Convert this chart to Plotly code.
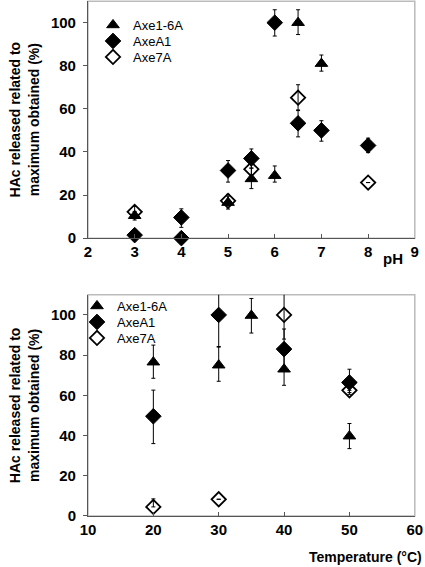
import plotly.graph_objects as go

# ---- pH data ----
ph_axe16_x = [3, 5, 5.5, 6, 6.5, 7]
ph_axe16_y = [10.4, 16.5, 27.5, 29, 100, 81]
ph_axe16_up = [2, 3, 5, 4.5, 6, 4]
ph_axe16_dn = [2, 3, 4.5, 3, 5.5, 3.5]

ph_axeA1_x = [3, 4, 4, 5, 5.5, 6, 6.5, 7, 8]
ph_axeA1_y = [1.4, 9.6, 0, 31.4, 37, 100, 53.3, 50, 43]
ph_axeA1_up = [0, 4, 0, 4.6, 4.4, 6, 6.2, 4.5, 3.4]
ph_axeA1_dn = [0, 4.6, 0, 5.4, 4.5, 6.2, 6.3, 5, 3.3]

ph_axe7A_x = [3, 5, 5.5, 6.5, 8]
ph_axe7A_y = [12.2, 17.3, 32, 65.2, 25.8]
ph_axe7A_up = [2.5, 3, 4, 6, 0]
ph_axe7A_dn = [2, 2, 4, 6, 0]

# ---- Temperature data ----
t_axe16_x = [20, 30, 35, 40, 50]
t_axe16_y = [76.5, 75, 99.7, 73, 39.7]
t_axe16_up = [8.5, 9.3, 8.5, 9, 6.3]
t_axe16_dn = [8, 8, 8.7, 8, 6.2]

t_axeA1_x = [20, 30, 40, 50]
t_axeA1_y = [49.6, 100, 83, 66.4]
t_axeA1_up = [13, 16, 10, 6.6]
t_axeA1_dn = [13.6, 16, 10, 5]

t_axe7A_x = [20, 30, 40, 50]
t_axe7A_y = [4.5, 8.3, 100, 62.5]
t_axe7A_up = [4, 0, 16, 0]
t_axe7A_dn = [0, 0, 12, 2]

names = ["Axe1-6A", "AxeA1", "Axe7A"]
FONT = "Liberation Sans, Arial, sans-serif"
W, H = 425, 567

styles = [
    dict(symbol="triangle-up", size=11, color="black", line=dict(color="black", width=1)),
    dict(symbol="diamond", size=12, color="black", line=dict(color="black", width=1)),
    dict(symbol="diamond-open", size=11, color="black", line=dict(color="black", width=1.8)),
]

fig = go.Figure()

def add(x, y, up, dn, i, xa, ya, legend):
    fig.add_trace(go.Scatter(
        x=x, y=y, mode="markers", name=names[i], marker=styles[i],
        error_y=dict(type="data", array=up, arrayminus=dn, symmetric=False,
                     color="black", thickness=1, width=2),
        xaxis=xa, yaxis=ya, legend=legend, cliponaxis=False,
    ))

add(ph_axe16_x, ph_axe16_y, ph_axe16_up, ph_axe16_dn, 0, "x", "y", "legend")
add(ph_axeA1_x, ph_axeA1_y, ph_axeA1_up, ph_axeA1_dn, 1, "x", "y", "legend2")
add(ph_axe7A_x, ph_axe7A_y, ph_axe7A_up, ph_axe7A_dn, 2, "x", "y", "legend3")
add(t_axe16_x, t_axe16_y, t_axe16_up, t_axe16_dn, 0, "x2", "y2", "legend4")
add(t_axeA1_x, t_axeA1_y, t_axeA1_up, t_axeA1_dn, 1, "x2", "y2", "legend5")
add(t_axe7A_x, t_axe7A_y, t_axe7A_up, t_axe7A_dn, 2, "x2", "y2", "legend6")

tickfont = dict(family=FONT, size=15, color="black", weight="bold")
ytitle = dict(text="HAc released related to<br>maximum obtained (%)",
              font=dict(family=FONT, size=14, color="black", weight="bold"), standoff=8)

xcommon = dict(showgrid=False, zeroline=False, showline=True, linecolor="#555",
               linewidth=1, ticks="inside", ticklen=4, tickcolor="#555", tickfont=tickfont,
               automargin=False)
ycommon = dict(showgrid=False, zeroline=False, showline=True, linecolor="#555",
               linewidth=1, ticks="outside", ticklen=4, tickcolor="#555", tickfont=tickfont,
               range=[0, 110], tickvals=[0, 20, 40, 60, 80, 100], title=ytitle,
               automargin=False, ticklabelstandoff=4)

legfont = dict(family=FONT, size=13, color="black")

def leg(xpx, ypx):
    return dict(x=xpx / W, y=1 - ypx / H, xanchor="left", yanchor="middle", font=legfont,
                bgcolor="rgba(0,0,0,0)", borderwidth=0, itemwidth=30)

fig.update_layout(
    width=W, height=H,
    margin=dict(l=0, r=0, t=0, b=0, autoexpand=False),
    paper_bgcolor="white", plot_bgcolor="white",
    xaxis=dict(domain=[0.207, 0.976], range=[2, 9], dtick=1, anchor="y", **xcommon),
    yaxis=dict(domain=[0.580, 0.998], anchor="x", **ycommon),
    xaxis2=dict(domain=[0.207, 0.976], range=[10, 60], dtick=10, anchor="y2", **xcommon),
    yaxis2=dict(domain=[0.090, 0.480], anchor="x2", **ycommon),
    legend=leg(93, 25), legend2=leg(93, 41), legend3=leg(93, 57),
    legend4=leg(77, 306), legend5=leg(77, 322), legend6=leg(77, 338),
    showlegend=True,
    shapes=[
        dict(type="rect", xref="x domain", yref="y domain", x0=0, x1=1, y0=0, y1=1,
             line=dict(color="#bbbbbb", width=1.5), layer="below"),
        dict(type="rect", xref="x2 domain", yref="y2 domain", x0=0, x1=1, y0=0, y1=1,
             line=dict(color="#bbbbbb", width=1.5), layer="below"),
    ],
    annotations=[
        dict(text="pH", xref="paper", yref="paper", x=0.925, y=1 - 258 / H, xanchor="center",
             yanchor="middle", showarrow=False,
             font=dict(family=FONT, size=15, color="black", weight="bold")),
        dict(text="Temperature (°C)", xref="paper", yref="paper", x=0.998, y=1 - 557 / H,
             xanchor="right", yanchor="middle", showarrow=False,
             font=dict(family=FONT, size=14, color="black", weight="bold")),
    ],
)

fig.write_html("out.html", config={"displayModeBar": False},
               post_script="document.body.style.margin='0';document.body.style.overflow='hidden';")
